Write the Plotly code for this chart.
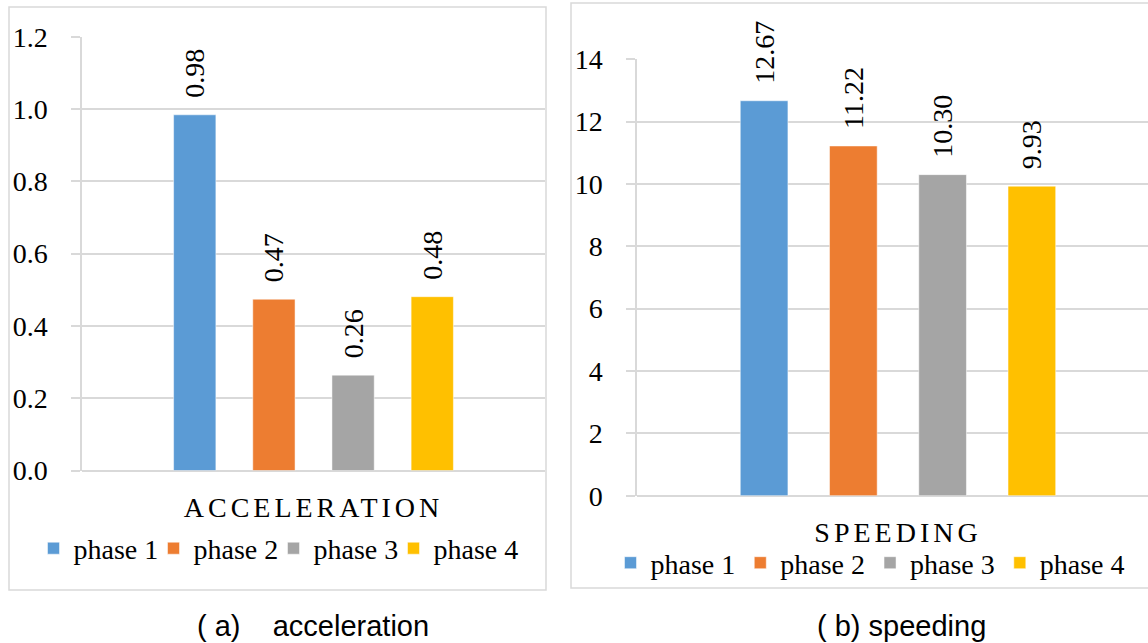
import plotly.graph_objects as go

W, H = 1148, 643

series_names = ["phase 1", "phase 2", "phase 3", "phase 4"]
series_colors = ["#5B9BD5", "#ED7D31", "#A5A5A5", "#FFC000"]

accel_category = ["ACCELERATION"]
accel_values = [0.984, 0.474, 0.264, 0.481]

speed_category = ["SPEEDING"]
speed_values = [12.67, 11.22, 10.30, 9.93]

accel_ticks = [0.0, 0.2, 0.4, 0.6, 0.8, 1.0, 1.2]
speed_ticks = [0, 2, 4, 6, 8, 10, 12, 14]

captions = ["( a)\u00a0\u00a0\u00a0 acceleration", "( b) speeding"]

SERIF = "Liberation Serif"
SANS = "Liberation Sans"
GRID = "#d9d9d9"

# legend entry widths (px) for the left legend; last entry kept wide enough for its text
left_legend_widths = [75, 75, 75, 90]


def px(x):
    return x / W


def py(y):
    return 1 - y / H


fig = go.Figure()

for name, color, v, lw in zip(series_names, series_colors, accel_values, left_legend_widths):
    fig.add_trace(go.Bar(
        x=accel_category, y=[v], name=name, marker_color=color,
        texttemplate="\u2002%{y:.2f}", textposition="outside", textangle=-90,
        textfont=dict(family=SERIF, size=28, color="black"),
        constraintext="none", cliponaxis=False, legendwidth=lw,
        xaxis="x", yaxis="y", legend="legend",
    ))

for name, color, v in zip(series_names, series_colors, speed_values):
    fig.add_trace(go.Bar(
        x=speed_category, y=[v], name=name, marker_color=color,
        texttemplate="\u2002%{y:.2f}", textposition="outside", textangle=-90,
        textfont=dict(family=SERIF, size=28, color="black"),
        constraintext="none", cliponaxis=False,
        xaxis="x2", yaxis="y2", legend="legend2",
    ))

yaxis_common = dict(
    showgrid=True, gridcolor=GRID, gridwidth=1.5,
    zeroline=True, zerolinecolor=GRID, zerolinewidth=1.5,
    showline=True, linecolor=GRID, linewidth=1.5,
    ticks="outside", ticklen=9, tickcolor=GRID, tickwidth=1.5,
    tickfont=dict(family=SERIF, size=28, color="black"),
    ticklabelstandoff=18, automargin=False,
    fixedrange=True,
)
xaxis_common = dict(
    type="category", showgrid=False, zeroline=False, showline=False,
    ticks="", tickfont=dict(family=SERIF, size=28, color="black"),
    ticklabelstandoff=17, automargin=False, fixedrange=True,
)

legend_common = dict(
    orientation="h", xanchor="center", yanchor="middle",
    font=dict(family=SERIF, size=28, color="black"), bgcolor="rgba(0,0,0,0)",
    itemwidth=30, tracegroupgap=0,
)

fig.update_layout(
    template="plotly_white",
    width=W, height=H,
    margin=dict(l=0, r=0, t=0, b=0, pad=0, autoexpand=False),
    paper_bgcolor="white", plot_bgcolor="white",
    barmode="group", bargap=0.316, bargroupgap=0.466,
    xaxis=dict(domain=[px(82), px(545)], range=[-0.5, 0.5], anchor="y", **xaxis_common),
    yaxis=dict(domain=[py(470.6), py(36.7)], range=[0, 1.2], tickvals=accel_ticks,
               tickformat=".1f", anchor="x", **yaxis_common),
    xaxis2=dict(domain=[px(637), 1.0], range=[-0.5, 0.479], anchor="y2", **xaxis_common),
    yaxis2=dict(domain=[py(495.7), py(59.3)], range=[0, 14], tickvals=speed_ticks,
                tickformat="d", anchor="x2", **yaxis_common),
    legend=dict(x=px(281), y=py(548.5), **legend_common),
    legend2=dict(x=px(870.5), y=py(563), **legend_common),
    shapes=[
        dict(type="rect", xref="paper", yref="paper", x0=px(9), x1=px(546), y0=py(590), y1=py(7),
             line=dict(color=GRID, width=1.5), layer="below"),
        dict(type="rect", xref="paper", yref="paper", x0=px(571), x1=px(1160), y0=py(588), y1=py(3),
             line=dict(color=GRID, width=1.5), layer="below"),
    ],
    annotations=[
        dict(text=captions[0], xref="paper", yref="paper", x=px(312.5), y=py(626),
             xanchor="center", yanchor="middle", showarrow=False,
             font=dict(family=SANS, size=29, color="black")),
        dict(text=captions[1], xref="paper", yref="paper", x=px(901), y=py(626),
             xanchor="center", yanchor="middle", showarrow=False,
             font=dict(family=SANS, size=29, color="black")),
    ],
    showlegend=True,
)

post = """
document.body.style.margin = '0';
document.documentElement.style.overflow = 'hidden';
function spaceLetters(){
  document.querySelectorAll('g.xtick text, g.x2tick text').forEach(function(t){ t.style.letterSpacing = '4px'; });
}
spaceLetters();
var gdEl = document.getElementById('{plot_id}');
if (gdEl && gdEl.on) { gdEl.on('plotly_afterplot', spaceLetters); }
setTimeout(spaceLetters, 50);
"""

fig.write_html("out.html", post_script=post, config={"displayModeBar": False})
